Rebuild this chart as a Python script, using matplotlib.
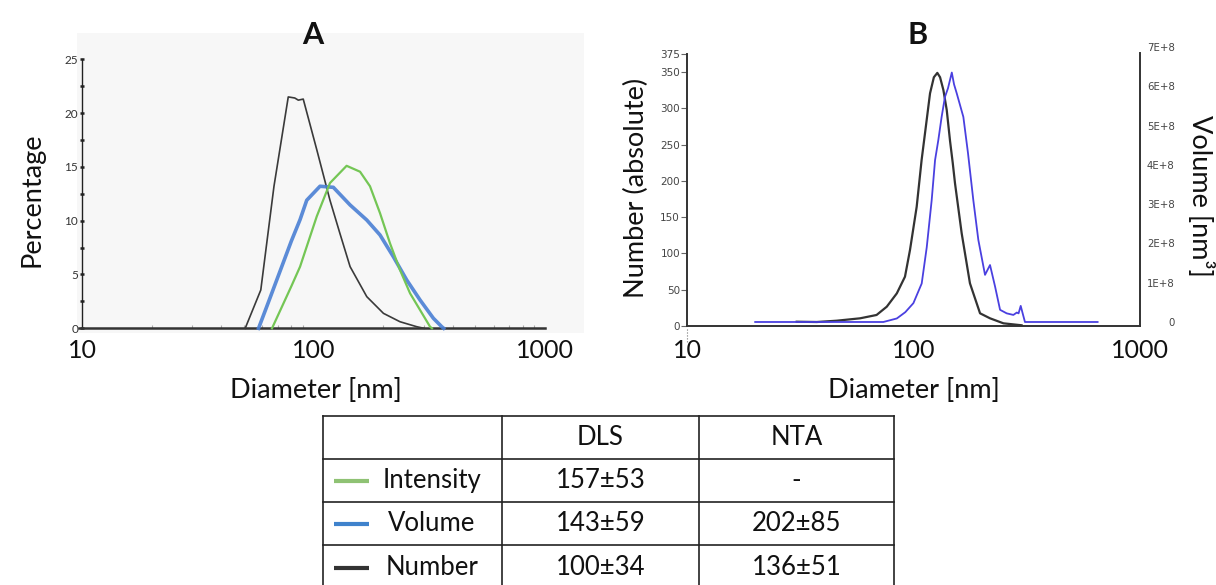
import matplotlib
matplotlib.use("Agg")
import matplotlib.pyplot as plt
from matplotlib.lines import Line2D
from matplotlib.ticker import FixedLocator, NullFormatter
import matplotlib.transforms as mtransforms

plt.rcParams['font.family'] = ['Lato', 'DejaVu Sans']

# ---------------- Data: panel A (DLS, percentage) ----------------
dls_number_d = [50.7, 59.2, 67.5, 77.8, 83.0, 86.0, 90.3, 103.3, 117.8, 130.0, 143.9, 169.9, 200.5, 236.4, 279.0, 300.0]
dls_number_p = [0.0, 3.56, 13.2, 21.5, 21.4, 21.2, 21.3, 16.6, 11.9, 8.83, 5.73, 2.94, 1.39, 0.61, 0.15, 0.0]

dls_volume_d = [57.9, 63.8, 80.2, 87.5, 93.5, 106.7, 121.8, 143.9, 169.9, 193.8, 221.3, 252.7, 288.6, 329.5, 358.0, 365.0]
dls_volume_p = [0.0, 2.4, 8.1, 10.1, 11.9, 13.2, 13.1, 11.46, 10.06, 8.67, 6.65, 4.49, 2.63, 0.93, 0.15, 0.0]

dls_intensity_d = [66.2, 80.2, 87.5, 103.3, 117.8, 139.0, 158.9, 175.4, 193.8, 214.0, 236.4, 261.3, 288.6, 318.7, 325.0]
dls_intensity_p = [0.0, 3.9, 5.73, 10.4, 13.5, 15.1, 14.55, 13.2, 10.7, 7.9, 5.42, 3.25, 1.7, 0.15, 0.0]

# ---------------- Data: panel B (NTA) ----------------
nta_number_d = [30.5, 37.4, 45.8, 58.1, 68.7, 76.2, 84.4, 91.7, 96.5, 103.3, 108.6, 112.4, 118.3, 123.0,
                127.4, 131.0, 135.5, 140.2, 145.0, 149.0, 152.5, 163.2, 177.5, 196.7, 217.7, 249.5, 300.0]
nta_number_n = [5.9, 5.5, 7.3, 10.6, 15.2, 26.6, 45.0, 68.0, 104.8, 164.5, 228.9, 265.7, 320.8, 343.0,
                349.0, 343.0, 325.4, 297.8, 255.0, 225.0, 196.7, 127.8, 58.9, 17.5, 10.6, 3.7, 1.0]

nta_volume_d = [20.0, 40.0, 60.0, 73.6, 84.4, 92.0, 99.9, 108.7, 114.4, 120.3, 124.5, 128.7, 133.1, 137.7,
                142.0, 147.6, 151.0, 155.2, 166.0, 174.0, 183.7, 193.3, 206.9, 217.7, 229.2, 241.1, 257.9,
                276.0, 285.8, 291.0, 297.4, 304.0, 310.5, 400.0, 650.0]
nta_volume_v = [0.0, 0.0, 0.0, 0.0, 0.09e8, 0.25e8, 0.48e8, 0.98e8, 1.9e8, 3.1e8, 4.12e8, 4.63e8, 5.22e8, 5.73e8,
                5.95e8, 6.35e8, 6.05e8, 5.82e8, 5.22e8, 4.3e8, 3.1e8, 2.09e8, 1.2e8, 1.45e8, 0.9e8, 0.31e8, 0.22e8,
                0.18e8, 0.24e8, 0.22e8, 0.41e8, 0.2e8, 0.0, 0.0, 0.0]

# ---------------- Data: table ----------------
table_header = ["", "DLS", "NTA"]
table_rows = ["Intensity", "Volume", "Number"]
table_dls = ["157±53", "143±59", "100±34"]
table_nta = ["-", "202±85", "136±51"]

xticks = [10, 100, 1000]
xticklabels = ["10", "100", "1000"]
a_yticks = [0, 5, 10, 15, 20, 25]
b_left_ticks = [0, 50, 100, 150, 200, 250, 300, 350, 375]
b_right_ticks = [0, 1e8, 2e8, 3e8, 4e8, 5e8, 6e8, 7e8]
b_right_labels = ["0", "1E+8", "2E+8", "3E+8", "4E+8", "5E+8", "6E+8", "7E+8"]

C_GREEN = '#74c655'
C_BLUE = '#4a7fd4'
C_BLACK = '#3a3a3a'
C_BBLUE = '#4a40e0'

LABEL_FS = 19.5
TICK_FS = 18
TABLE_FS = 18.5

W, H = 1216, 585
fig = plt.figure(figsize=(W / 100, H / 100), dpi=100)
fig.patch.set_facecolor('white')

def fx(px):
    return px / W

def fy(py):
    return 1 - py / H

# ---------------- Panel A ----------------
axA = fig.add_axes([fx(77), fy(333), (584 - 77) / W, (333 - 33) / H])
axA.set_facecolor('#f7f7f7')
axA.set_xscale('log')
axA.set_xlim(9.515, 1474)
axA.set_ylim(-0.437, 27.44)
for s in ['top', 'right']:
    axA.spines[s].set_visible(False)
axA.spines['left'].set_position(('data', 10))
axA.spines['left'].set_bounds(0, 25)
axA.spines['left'].set_color('#222222')
axA.spines['left'].set_linewidth(1.0)
axA.spines['bottom'].set_position(('data', 0))
axA.spines['bottom'].set_bounds(9.7, 1000)
axA.spines['bottom'].set_color('#333333')
axA.spines['bottom'].set_linewidth(1.8)

axA.plot(dls_number_d, dls_number_p, color=C_BLACK, lw=1.2, zorder=3)
axA.plot(dls_volume_d, dls_volume_p, color=C_BLUE, lw=2.6, alpha=0.9, zorder=4, solid_joinstyle='round')
axA.plot(dls_intensity_d, dls_intensity_p, color=C_GREEN, lw=1.6, zorder=5)

axA.set_yticks(a_yticks)
axA.set_yticklabels([str(t) for t in a_yticks])
axA.yaxis.set_minor_locator(FixedLocator([2.5, 7.5, 12.5, 17.5, 22.5]))
axA.tick_params(axis='y', which='both', direction='inout', length=3.5, width=1.8,
                color='#222222', labelsize=8.5, labelcolor='#333333', pad=1)
axA.set_xticks(xticks)
axA.set_xticklabels(xticklabels)
minor = [m * 10 ** e for e in (1, 2) for m in range(2, 10)]
axA.xaxis.set_minor_locator(FixedLocator(minor))
axA.xaxis.set_minor_formatter(NullFormatter())
axA.tick_params(axis='x', which='major', length=0, labelsize=TICK_FS, pad=8, labelcolor='#111111')
axA.tick_params(axis='x', which='minor', direction='in', length=2.5, width=0.8, color='#aaaaaa')

# ---------------- Panel B ----------------
axB = fig.add_axes([fx(687), fy(326), 453 / W, (326 - 47) / H])
axB.set_xscale('log')
axB.set_xlim(10, 1000)
axB.set_ylim(0, 384.7)
axB.spines['top'].set_visible(False)
axB.spines['left'].set_bounds(0, 375)
for s in ['left', 'bottom', 'right']:
    axB.spines[s].set_color('#333333')
    axB.spines[s].set_linewidth(1.4)
axB.spines['right'].set_visible(False)

ax2 = axB.twinx()
ax2.set_ylim(-0.102e8, 7.0e8)
for s in ['top', 'left', 'bottom']:
    ax2.spines[s].set_visible(False)
ax2.spines['right'].set_bounds(-0.102e8, 6.85e8)
ax2.spines['right'].set_color('#333333')
ax2.spines['right'].set_linewidth(1.4)

axB.plot(nta_number_d, nta_number_n, color='#333333', lw=1.6, zorder=3)
ax2.plot(nta_volume_d, nta_volume_v, color=C_BBLUE, lw=1.3, zorder=3)

axB.set_yticks(b_left_ticks)
axB.set_yticklabels([str(t) for t in b_left_ticks], family='DejaVu Sans')
axB.tick_params(axis='y', direction='out', length=4, width=0.8, color='#666666',
                labelsize=7.5, labelcolor='#444444', pad=1)
ax2.set_yticks(b_right_ticks)
ax2.set_yticklabels(b_right_labels, family='DejaVu Sans')
ax2.tick_params(axis='y', length=0, labelsize=7.3, labelcolor='#444444', pad=25)
for lab in ax2.get_yticklabels():
    lab.set_horizontalalignment('right')

axB.set_xticks(xticks)
axB.set_xticklabels(xticklabels)
axB.xaxis.set_minor_locator(FixedLocator([]))
axB.tick_params(axis='x', which='major', length=0, labelsize=TICK_FS, pad=9, labelcolor='#111111')
trans = mtransforms.blended_transform_factory(axB.transData, axB.transAxes)
axB.plot([10, 10], [-0.01, -0.06], transform=trans, ls=':', lw=0.8, color='#777777', clip_on=False)

# ---------------- Titles and labels ----------------
fig.text(fx(313), fy(35), "A", ha='center', va='center', fontsize=22, fontweight='bold', color='#111111')
fig.text(fx(918), fy(35), "B", ha='center', va='center', fontsize=22, fontweight='bold', color='#111111')
fig.text(fx(32), fy(200), "Percentage", rotation=90, ha='center', va='center', fontsize=LABEL_FS, color='#111111')
fig.text(fx(316), fy(390), "Diameter [nm]", ha='center', va='center', fontsize=LABEL_FS, color='#111111')
fig.text(fx(636), fy(188), "Number (absolute)", rotation=90, ha='center', va='center', fontsize=LABEL_FS, color='#111111')
fig.text(fx(1201), fy(196), "Volume [nm³]", rotation=-90, ha='center', va='center', fontsize=LABEL_FS, color='#111111')
fig.text(fx(914), fy(390), "Diameter [nm]", ha='center', va='center', fontsize=LABEL_FS, color='#111111')

# ---------------- Table ----------------
col_x = [323, 502, 699, 894]
row_y = [416, 459, 502, 545, 590]
for x in col_x:
    fig.add_artist(Line2D([fx(x), fx(x)], [fy(row_y[0]), fy(row_y[-1])], color='#222222', lw=1.2))
for y in row_y[:-1]:
    fig.add_artist(Line2D([fx(col_x[0]), fx(col_x[-1])], [fy(y), fy(y)], color='#222222', lw=1.2))

centers_y = [(row_y[i] + row_y[i + 1]) / 2 for i in range(4)]
col_c = [(col_x[i] + col_x[i + 1]) / 2 for i in range(3)]
fig.text(fx(col_c[1]), fy(centers_y[0]), table_header[1], ha='center', va='center', fontsize=TABLE_FS, color='#111111')
fig.text(fx(col_c[2]), fy(centers_y[0]), table_header[2], ha='center', va='center', fontsize=TABLE_FS, color='#111111')
legend_colors = ['#8fc274', '#3f82cc', '#333333']
for i, name in enumerate(table_rows):
    cy = centers_y[i + 1]
    fig.add_artist(Line2D([fx(334), fx(369)], [fy(cy), fy(cy)], color=legend_colors[i], lw=3.0,
                          solid_capstyle='butt'))
    fig.text(fx(432), fy(cy), name, ha='center', va='center', fontsize=TABLE_FS, color='#111111')
    fig.text(fx(col_c[1]), fy(cy), table_dls[i], ha='center', va='center', fontsize=TABLE_FS, color='#111111')
    fig.text(fx(col_c[2]), fy(cy), table_nta[i], ha='center', va='center', fontsize=TABLE_FS, color='#111111')

fig.savefig("out.png", dpi=100)
